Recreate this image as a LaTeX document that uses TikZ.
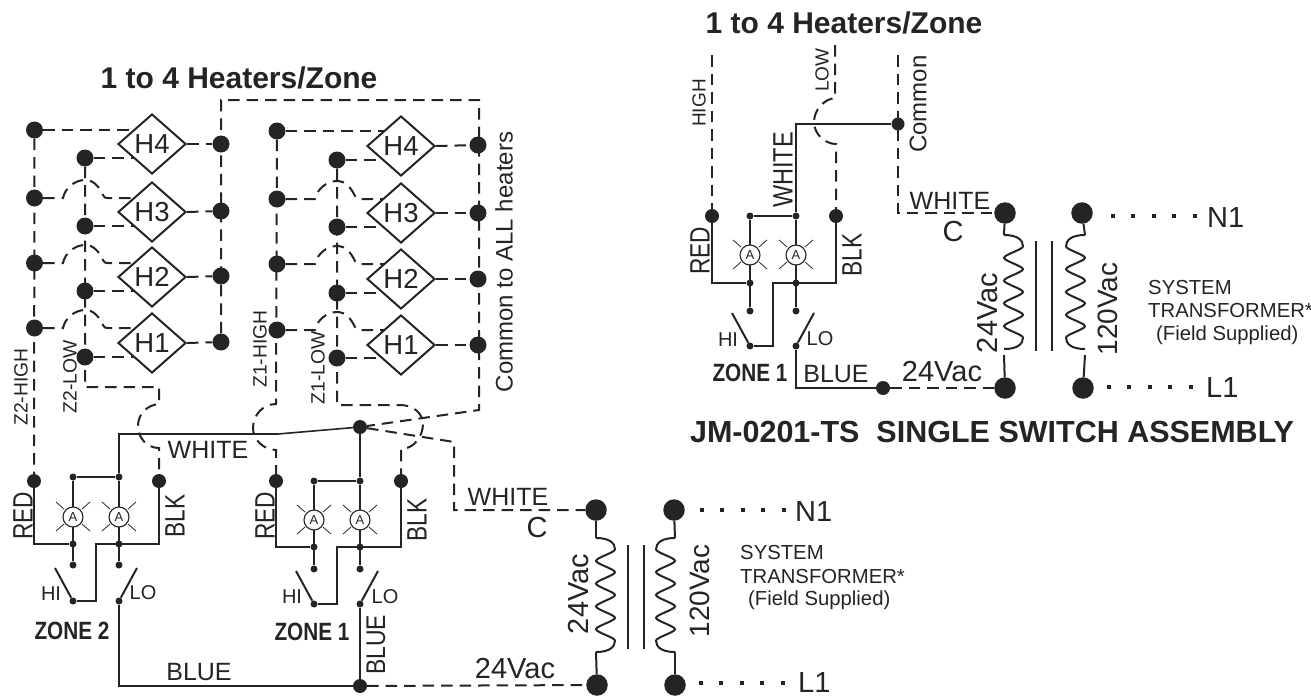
\documentclass[tikz,border=0pt]{standalone}
\usepackage{fontspec}
\setmainfont{Liberation Sans}
\usetikzlibrary{shapes.geometric,calc,backgrounds}
\definecolor{ink}{HTML}{262324}
\tikzset{
  wire/.style={draw=ink,line width=2pt},
  thinwire/.style={draw=ink,line width=1.6pt},
  dw/.style={draw=ink,line width=2pt,dash pattern=on 11.5pt off 7pt},
  ray/.style={draw=ink,line width=0.8pt},
  pts/.style={draw=ink,line width=4pt,dash pattern=on 4pt off 16.4pt},
  hdot/.style={circle,fill=ink,inner sep=0pt,minimum size=17pt},
  mdot/.style={circle,fill=ink,inner sep=0pt,minimum size=14pt},
  sdot/.style={circle,fill=ink,inner sep=0pt,minimum size=7pt},
  tdot/.style={circle,fill=ink,inner sep=0pt,minimum size=21.5pt},
  heater/.style={diamond,aspect=1.13,draw=ink,line width=2pt,fill=white,inner sep=0pt,minimum width=68pt,minimum height=60pt,text=ink,font=\fontsize{27.5}{30}\selectfont},
  lampc/.style={circle,draw=ink,line width=1.1pt,fill=white,inner sep=0pt,minimum size=20pt,text=ink,font=\fontsize{13}{14}\selectfont},
  lbl/.style={inner sep=0pt,text=ink,font=\fontsize{#1}{#1}\selectfont},
  blbl/.style={inner sep=0pt,text=ink,font=\bfseries\fontsize{#1}{#1}\selectfont},
  vlbl/.style={lbl=#1,rotate=90},
}
\newcommand\coilpath[4]{% name, x, y0, sign
  \coordinate (#1) at (#2,#3);
  \draw[wire] (#1) .. controls +(#4*14,0) and +(0,-6) .. ++(#4*19,11.4)
    \foreach \kk in {0,...,3} {
      .. controls +(0,3) and +(0,-3) .. ++(#4*-19,11.4)
      .. controls +(0,3) and +(0,-3) .. ++(#4*19,11.4) }
    .. controls +(0,6) and +(#4*14,0) .. ++(#4*-19,11.4);
}
\newcommand\tallsq[2]{\scalebox{#1}[1]{#2}}
\begin{document}
\begin{tikzpicture}[x=1pt,y=-1pt]
\useasboundingbox (0,0) rectangle (1311,696);

% ---------- heater blocks
\foreach \z/\hx/\lx/\dx/\cx/\rows in {
  s/34.5/85/152/221/{4/130/158/144/144,3/198/226/212/211,2/263/291/277/276,1/328/357/343/342},
  t/277/337/401/478/{4/131/160/146/145,3/199/227/213/213,2/264/293/279/279,1/330/358/345/345}}{
  \foreach \r/\hy/\ly/\dy/\cy in \rows {
    \node[hdot] (\z h\r) at (\hx,\hy) {};
    \node[hdot] (\z l\r) at (\lx,\ly) {};
    \node[heater] (\z d\r) at (\dx,\dy) {H\r};
    \node[hdot] (\z c\r) at (\cx,\cy) {};
    \begin{scope}[on background layer]
      \draw[dw] (\z l\r) -- (\z l\r -| \z d\r);
      \draw[dw] (\z d\r.east) -- (\z c\r);
    \end{scope}
  }
  \begin{scope}[on background layer]
    \draw[dw] (\z h4) -- (\z h4 -| \z d4);
    \foreach \r in {3,2,1} {
      \draw[dw] (\z h\r) -- ($(\z h\r -| \z l\r)+(-22,0)$)
        .. controls +(2,-10) and +(-10,0) .. ++(22,-18)
        .. controls +(9,0) and +(-4,-8) .. ++(18,15)
        .. controls +(2,3) and +(-3,0) .. ++(5,3)
        -- (\z h\r -| \z d\r);
    }
  \end{scope}
}

% ---------- switch assemblies
\foreach \p/\rr/\a/\b/\k/\dy/\cy/\ly/\by/\ey/\sy/\j in {
  B/34/73/119/159/481/477/517/544/565/601/96,
  A/276/314/360/401/481/481/520/547/569/604/337,
  U/712/750/796/836/216/216/255/283/311/346/773}{
  \node[mdot] (\p r) at (\rr,\dy) {};
  \node[mdot] (\p k) at (\k,\dy) {};
  \node[sdot] (\p ca) at (\a,\cy) {};
  \node[sdot] (\p cb) at (\b,\cy) {};
  \node[lampc] (\p la) at (\a,\ly) {A};
  \node[lampc] (\p lb) at (\b,\ly) {A};
  \node[sdot] (\p ba) at (\a,\by) {};
  \node[sdot] (\p bb) at (\b,\by) {};
  \node[sdot] (\p ea) at (\a,\ey) {};
  \node[sdot] (\p eb) at (\b,\ey) {};
  \node[sdot] (\p sa) at (\a,\sy) {};
  \node[sdot] (\p sb) at (\b,\sy) {};
  \coordinate (\p jt) at (\j,\by);
  \coordinate (\p jb) at (\j,\sy);
  \coordinate (\p ha) at (\a-18,\sy-33);
  \coordinate (\p lo) at (\b+18,\sy-33);
  \begin{scope}[on background layer]
    \draw[wire] (\p r) |- (\p ba);
    \draw[wire] (\p k) |- (\p jt) -- (\p jb) -- (\p sa);
    \draw[wire] (\p jt) -- (\p bb);
    \draw[wire] (\p ca) -- (\p cb);
    \draw[wire] (\p ca) -- (\p ea);
    \draw[wire] (\p cb) -- (\p eb);
    \draw[wire] (\p sa) -- (\p ha);
    \draw[wire] (\p sb) -- (\p lo);
  \end{scope}
  \foreach \n in {la,lb} \foreach \ssx in {-1,1} {
    \draw[ray] (\p\n.center) ++(\ssx*9,-8) -- ++(\ssx*8,-7);
    \draw[ray] (\p\n.center) ++(\ssx*9,7) -- ++(\ssx*8,7);
  }
}

% ---------- transformers
\node[tdot] (tna) at (596,510) {};
\node[tdot] (tnb) at (674,510) {};
\node[tdot] (tla) at (597,685) {};
\node[tdot] (tlb) at (675,685) {};
\node[tdot] (una) at (1005,213) {};
\node[tdot] (unb) at (1082,213) {};
\node[tdot] (ula) at (1005,388) {};
\node[tdot] (ulb) at (1083,388) {};
\coilpath{cla}{596}{538}{1}
\coilpath{clb}{675}{538}{-1}
\coilpath{cua}{1004}{235}{1}
\coilpath{cub}{1085}{235}{-1}
\draw[wire] (tna) -- (cla);
\draw[wire] (tnb) -- (clb);
\draw[wire] (tla) -- ++(-1,-33);
\draw[wire] (tlb) -- ++(0,-33);
\draw[wire] (una) -- (cua);
\draw[wire] (unb) -- (cub);
\draw[wire] (ula) -- ++(-1,-33);
\draw[wire] (ulb) -- ++(2,-33);
\coordinate (ca1) at (628,545); \coordinate (ca2) at (628,649);
\coordinate (cb1) at (644,545); \coordinate (cb2) at (644,649);
\coordinate (ua1) at (1036,241); \coordinate (ua2) at (1036,351);
\coordinate (ub1) at (1052,241); \coordinate (ub2) at (1052,351);
\draw[wire] (ca1) -- (ca2);
\draw[wire] (cb1) -- (cb2);
\draw[wire] (ua1) -- (ua2);
\draw[wire] (ub1) -- (ub2);

% ---------- hubs
\node[mdot] (hub) at (360,427) {};
\node[mdot] (bh) at (360,686) {};
\node[mdot] (uh) at (883,388) {};
\node[sdot,minimum size=13pt] (ucm) at (898,124) {};
\coordinate (wb) at (119,434);
\coordinate (wm) at (278,434);
\coordinate (cc) at (221,100);
\coordinate (cd) at (479,100);
\coordinate (ce) at (479,410);
\coordinate (wf) at (454,442);
\coordinate (wg) at (454,510);
\coordinate (lowc) at (85,387);
\coordinate (lowd) at (159,387);
\coordinate (lowe) at (159,404);
\coordinate (z1a) at (276,404);
\coordinate (z1c) at (276,450);
\coordinate (z2a) at (337,405);
\coordinate (z2b) at (400,405);
\coordinate (z2c) at (401,449);
\coordinate (ut) at (796,124);
\coordinate (hit) at (712,55);
\coordinate (lot) at (835,45);
\coordinate (lob) at (835,98);
\coordinate (loc) at (836,144);
\coordinate (cot) at (898,55);
\coordinate (cob) at (898,213);

% main wiring
\begin{scope}[on background layer]
\draw[dw] (sh4) -- (Br);
\draw[dw] (sl4) -- (lowc) -- (lowd) -- (lowe)
  .. controls (147,405) and (138,414) .. (138,426)
  .. controls (138,438) and (147,448) .. (159,448) -- (Bk);
\draw[dw] (sc1) -- (cc) -- (cd) -- (ce) -- (hub);
\draw[dw] (th4) -- (z1a)
  .. controls (262,404) and (253,416) .. (253,428)
  .. controls (253,440) and (264,450) .. (z1c) -- (Ar);
\draw[dw] (tl4) -- (z2a) -- (z2b)
  .. controls (414,405) and (423,414) .. (423,424)
  .. controls (423,436) and (414,449) .. (z2c) -- (Ak);
\draw[dw] (hub) -- (wf) -- (wg) -- (tna);
\draw[thinwire] (Bcb) -- (wb) -- (wm) -- (hub);
\draw[wire] (hub) -- (Acb);
\draw[wire] (Bsb) |- (bh);
\draw[wire] (Asb) -- (bh);
\draw[dw] (bh) -- (tla);
\draw[wire] (Usb) |- (uh);
\draw[dw] (uh) -- (ula);
\draw[wire] (Ucb) -- (ut) -- (ucm);
\draw[dw] (hit) -- (Ur);
\draw[dw] (lot) -- (lob)
  .. controls (824,99) and (814,110) .. (814,122)
  .. controls (814,134) and (825,144) .. (loc) -- (Uk);
\draw[dw] (cot) -- (cob) -- (una);
\end{scope}

% ---------- labels
\node[blbl=30] (t1) at (239,78) {1 to 4 Heaters/Zone};
\node[blbl=30] (t2) at (844,23) {1 to 4 Heaters/Zone};
\node[blbl=30.5] (t3) at (992,432) {JM-0201-TS\ \ SINGLE SWITCH ASSEMBLY};
\node[vlbl=24] (ca) at (504,262) {Common to ALL heaters};
\node[vlbl=19.3] (l1) at (21,387) {Z2-HIGH};
\node[vlbl=19.3] (l2) at (70,377) {Z2-LOW};
\node[vlbl=19.3] (l3) at (260,349) {Z1-HIGH};
\node[vlbl=19.3] (l4) at (318,368) {Z1-LOW};
\node[vlbl=28] (l5) at (23,516) {\tallsq{.81}{RED}};
\node[vlbl=28] (l6) at (175,516) {\tallsq{.81}{BLK}};
\node[vlbl=28] (l7) at (265,516) {\tallsq{.81}{RED}};
\node[vlbl=28] (l8) at (417,520) {\tallsq{.81}{BLK}};
\node[lbl=25] (l9) at (208,450) {WHITE};
\node[lbl=20] (l10) at (51,594) {HI};
\node[lbl=20] (l11) at (143,593) {LO};
\node[lbl=20] (l12) at (292,597) {HI};
\node[lbl=20] (l13) at (385,597) {LO};
\node[blbl=25] (l14) at (72,631) {\tallsq{.83}{ZONE 2}};
\node[blbl=25] (l15) at (312,632) {\tallsq{.83}{ZONE 1}};
\node[lbl=25] (l16) at (199,672) {BLUE};
\node[vlbl=27] (l17) at (376,645) {\tallsq{.85}{BLUE}};
\node[lbl=25] (l18) at (508,497) {WHITE};
\node[lbl=29] (l19) at (537,528) {C};
\node[lbl=29] (l20) at (515,669) {24Vac};
\node[vlbl=29] (l21) at (579,594) {24Vac};
\node[vlbl=28] (l22) at (700,591) {120Vac};
\node[lbl=29,anchor=west] (n1) at (795,512) {N1};
\node[lbl=29,anchor=west] (n2) at (798,683) {L1};
\node[lbl=20.3,anchor=west] (s1) at (740,553) {SYSTEM};
\node[lbl=20.3,anchor=west] (s2) at (740,576.5) {TRANSFORMER*};
\node[lbl=20.3,anchor=west] (s3) at (748,600) {(Field Supplied)};
% upper
\node[vlbl=19] (u1) at (699,103) {HIGH};
\node[vlbl=19] (u2) at (822,70) {LOW};
\node[vlbl=24] (u3) at (918,104) {Common};
\node[vlbl=28] (u4) at (783,170) {\tallsq{.84}{WHITE}};
\node[vlbl=28] (u5) at (700,251) {\tallsq{.81}{RED}};
\node[vlbl=28] (u6) at (852,255) {\tallsq{.81}{BLK}};
\node[lbl=25] (u7) at (950,201) {WHITE};
\node[lbl=29] (u8) at (953,232) {C};
\node[lbl=20] (u9) at (728,340) {HI};
\node[lbl=20] (u10) at (820,339) {LO};
\node[blbl=25] (u11) at (750,373) {\tallsq{.83}{ZONE 1}};
\node[lbl=25] (u12) at (836,374) {BLUE};
\node[lbl=29] (u13) at (942,372) {24Vac};
\node[vlbl=29] (u14) at (988,313) {24Vac};
\node[vlbl=28] (u15) at (1108,309) {120Vac};
\node[lbl=29,anchor=west] (u16) at (1207,217.5) {N1};
\node[lbl=29,anchor=west] (u17) at (1206,388) {L1};
\node[lbl=20.3,anchor=west] (u18) at (1148,288) {SYSTEM};
\node[lbl=20.3,anchor=west] (u19) at (1148,310.5) {TRANSFORMER*};
\node[lbl=20.3,anchor=west] (u20) at (1156,335) {(Field Supplied)};

% dotted mains
\coordinate (na) at (700,510); \coordinate (nb) at (786,510);
\coordinate (la) at (699,683); \coordinate (lb) at (786,683);
\coordinate (uaa) at (1111,216); \coordinate (uab) at (1200,216);
\coordinate (uba) at (1107,387); \coordinate (ubb) at (1194,387);
\draw[pts] (na) -- (nb);
\draw[pts] (la) -- (lb);
\draw[pts] (uaa) -- (uab);
\draw[pts] (uba) -- (ubb);
\end{tikzpicture}
\end{document}
